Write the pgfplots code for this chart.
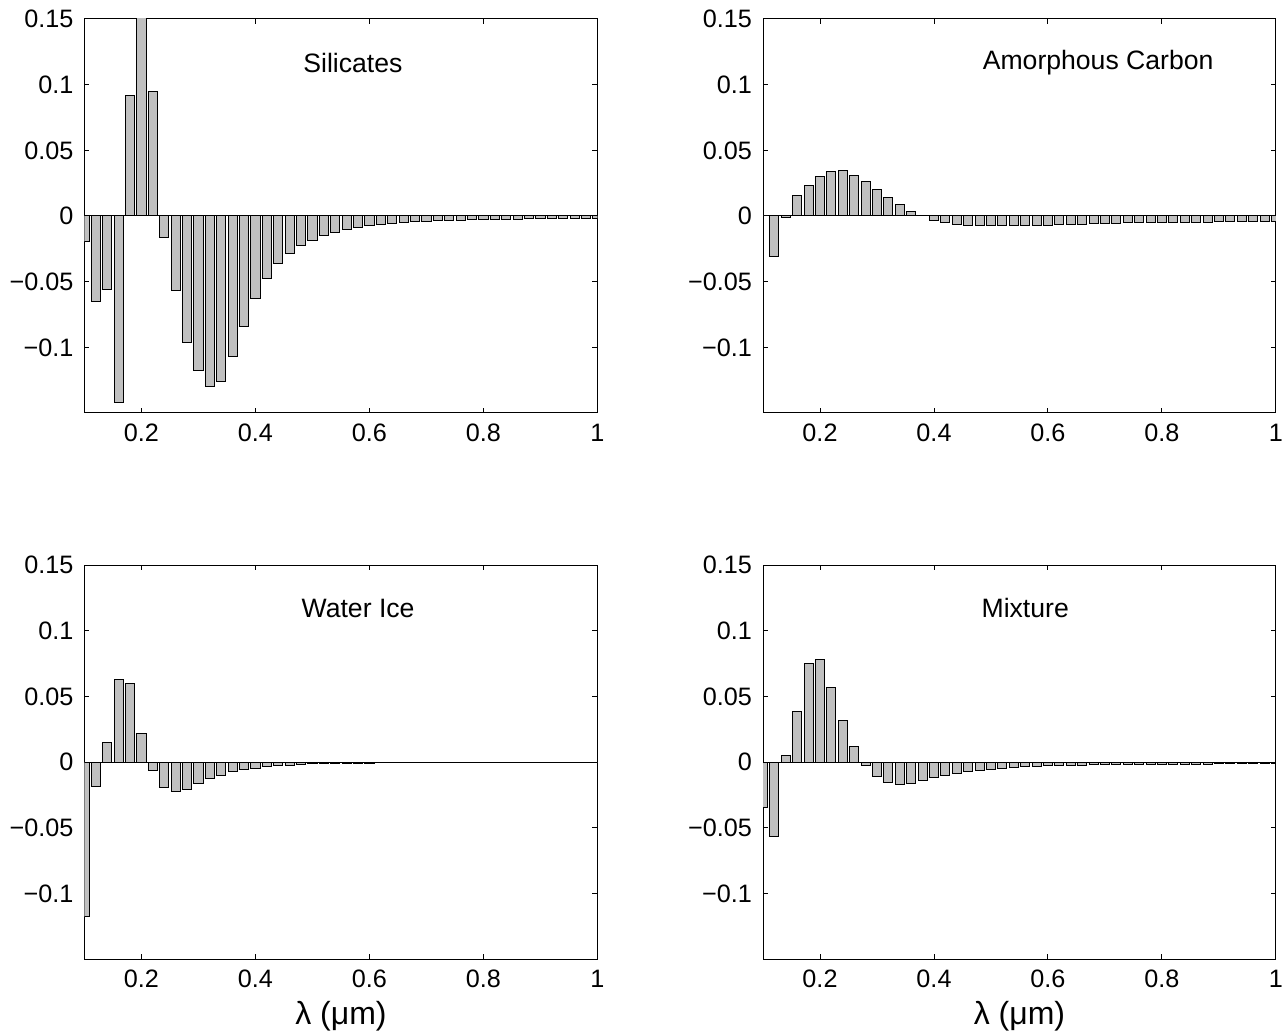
\documentclass[border=0pt]{standalone}
\usepackage{fontspec}
\setmainfont{Liberation Sans}
\usepackage{pgfplots}
\usepackage{pgfplotstable}
\pgfplotsset{compat=1.18}

\definecolor{barfill}{RGB}{192,192,192}

% Relative change per wavelength bin for each grain species
\pgfplotstableread{
lam   sil      carb     ice      mix
0.10  -0.0195  0.0000   -0.1180  -0.0343
0.12  -0.0650  -0.0307  -0.0183  -0.0566
0.14  -0.0560  -0.0013  0.0150   0.0048
0.16  -0.1420  0.0155   0.0625   0.0383
0.18  0.0920   0.0231   0.0600   0.0751
0.20  0.1900   0.0297   0.0218   0.0784
0.22  0.0950   0.0340   -0.0063  0.0566
0.24  -0.0165  0.0343   -0.0195  0.0317
0.26  -0.0566  0.0312   -0.0228  0.0117
0.28  -0.0960  0.0259   -0.0206  -0.0030
0.30  -0.1180  0.0200   -0.0162  -0.0114
0.32  -0.1295  0.0142   -0.0129  -0.0155
0.34  -0.1257  0.0086   -0.0099  -0.0168
0.36  -0.1070  0.0038   -0.0076  -0.0160
0.38  -0.0838  0.0003   -0.0058  -0.0140
0.40  -0.0632  -0.0033  -0.0046  -0.0120
0.42  -0.0477  -0.0053  -0.0036  -0.0102
0.44  -0.0363  -0.0065  -0.0028  -0.0088
0.46  -0.0284  -0.0072  -0.0023  -0.0075
0.48  -0.0226  -0.0075  -0.0018  -0.0065
0.50  -0.0183  -0.0076  -0.0015  -0.0056
0.52  -0.0147  -0.0076  -0.0013  -0.0048
0.54  -0.0124  -0.0075  -0.0011  -0.0042
0.56  -0.0106  -0.0074  -0.0010  -0.0037
0.58  -0.0087  -0.0072  -0.0009  -0.0033
0.60  -0.0072  -0.0070  -0.0008  -0.0030
0.62  -0.0063  -0.0068  -0.0007  -0.0027
0.64  -0.0056  -0.0065  -0.0006  -0.0025
0.66  -0.0050  -0.0062  -0.0006  -0.0023
0.68  -0.0045  -0.0060  -0.0005  -0.0022
0.70  -0.0040  -0.0058  -0.0005  -0.0021
0.72  -0.0037  -0.0055  -0.0004  -0.0020
0.74  -0.0034  -0.0053  -0.0004  -0.0019
0.76  -0.0031  -0.0051  -0.0004  -0.0018
0.78  -0.0029  -0.0050  -0.0003  -0.0018
0.80  -0.0027  -0.0049  -0.0003  -0.0017
0.82  -0.0025  -0.0048  -0.0003  -0.0017
0.84  -0.0024  -0.0047  -0.0003  -0.0016
0.86  -0.0023  -0.0046  -0.0003  -0.0016
0.88  -0.0022  -0.0046  -0.0002  -0.0016
0.90  -0.0021  -0.0045  -0.0002  -0.0015
0.92  -0.0020  -0.0045  -0.0002  -0.0015
0.94  -0.0020  -0.0044  -0.0002  -0.0015
0.96  -0.0019  -0.0044  -0.0002  -0.0014
0.98  -0.0018  -0.0043  -0.0002  -0.0014
1.00  -0.0018  -0.0043  -0.0002  -0.0014
}\spectra

\pgfplotsset{
  panel/.style={
    scale only axis, width=256.5pt, height=197pt,
    xmin=0.1, xmax=1, ymin=-0.15, ymax=0.15,
    xtick={0.2,0.4,0.6,0.8,1}, xticklabels={0.2,0.4,0.6,0.8,1},
    ytick={-0.1,-0.05,0,0.05,0.1,0.15},
    yticklabels={−0.1,−0.05,0,0.05,0.1,0.15},
    tick align=inside, tick pos=both, major tick length=2.5pt,
    axis line style={line width=0.5pt},
    every tick/.style={black, line width=0.5pt},
    ticklabel style={font=\fontsize{12.6}{15}\selectfont},
    xticklabel style={yshift=-2pt},
    yticklabel style={xshift=-2pt},
    xlabel style={font=\fontsize{16}{19}\selectfont, yshift=0pt},
    clip=true,
  },
  bars/.style={ybar, bar width=0.016, bar shift=0pt, fill=barfill,
    draw=black, line width=0.5pt},
}
\tikzset{tag/.style={font=\fontsize{13.3}{16}\selectfont}}

\begin{document}
\begin{tikzpicture}
\path[use as bounding box] (0,0) rectangle (643pt,517.5pt);

\begin{axis}[panel, at={(42.25pt,311pt)}, anchor=south west]
  \draw[line width=0.5pt] (axis cs:0.1,0) -- (axis cs:1,0);
  \addplot[bars] table[x=lam, y=sil] {\spectra};
  \node[tag] at (axis cs:0.571,0.1165) {Silicates};
\end{axis}

\begin{axis}[panel, at={(381.5pt,311pt)}, anchor=south west]
  \draw[line width=0.5pt] (axis cs:0.1,0) -- (axis cs:1,0);
  \addplot[bars] table[x=lam, y=carb] {\spectra};
  \node[tag] at (axis cs:0.688,0.117) {Amorphous Carbon};
\end{axis}

\begin{axis}[panel, at={(42.25pt,38pt)}, anchor=south west, xlabel={λ (μm)}]
  \draw[line width=0.5pt] (axis cs:0.1,0) -- (axis cs:1,0);
  \addplot[bars] table[x=lam, y=ice] {\spectra};
  \node[tag] at (axis cs:0.58,0.117) {Water Ice};
\end{axis}

\begin{axis}[panel, at={(381.5pt,38pt)}, anchor=south west, xlabel={λ (μm)}]
  \draw[line width=0.5pt] (axis cs:0.1,0) -- (axis cs:1,0);
  \addplot[bars] table[x=lam, y=mix] {\spectra};
  \node[tag] at (axis cs:0.56,0.117) {Mixture};
\end{axis}
\end{tikzpicture}
\end{document}
